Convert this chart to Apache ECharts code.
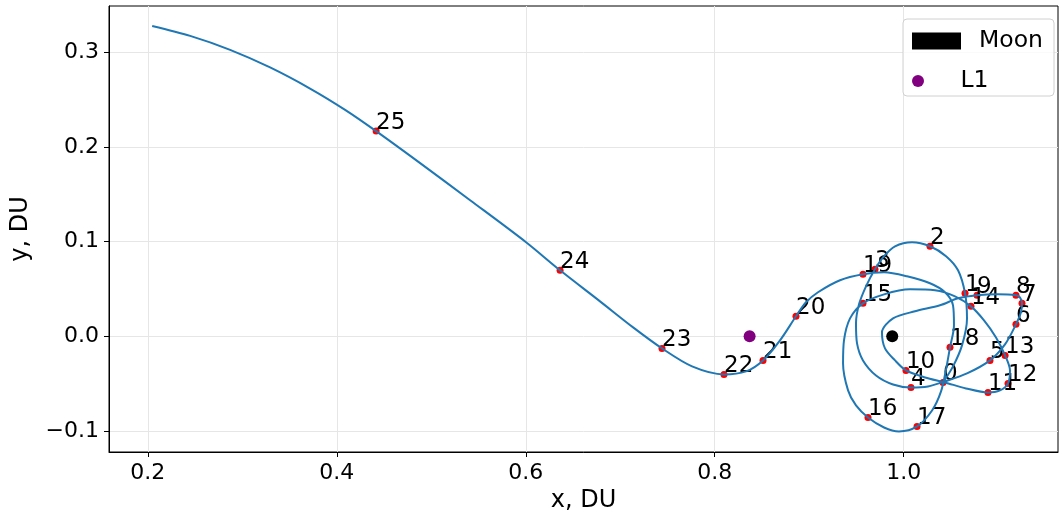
<!DOCTYPE html>
<html>
<head>
<meta charset="utf-8">
<script src="https://cdn.jsdelivr.net/npm/echarts@6/dist/echarts.min.js"></script>
<style>
  html, body { margin: 0; padding: 0; background: #fff; }
  #main { width: 1060px; height: 518px; }
</style>
</head>
<body>
<div id="main"></div>
<script>
// trajectory (in DU)
const trajX = [1.0416, 1.0522, 1.0617, 1.0670, 1.0649, 1.0575, 1.0448, 1.0278, 1.0088, 0.9908, 0.9792, 0.9696,
  0.9601, 0.9527, 0.9495, 0.9506, 0.9569, 0.9707, 0.9887, 1.0077, 1.0257, 1.0437, 1.0670, 1.0913, 1.1072,
  1.1188, 1.1241, 1.1252, 1.1230, 1.1188, 1.0998, 1.0776, 1.0575, 1.0384, 1.0120, 0.9887, 0.9770, 0.9802,
  0.9908, 1.0024, 1.0226, 1.0437, 1.0659, 1.0892, 1.1019, 1.1104, 1.1125, 1.1073, 1.0977, 1.0850, 1.0712,
  1.0543, 1.0331, 1.0067, 0.9792, 0.9569, 0.9432, 0.9368, 0.9358, 0.9411, 0.9495, 0.9622, 0.9792, 0.9950,
  1.0141, 1.0300, 1.0395, 1.0448, 1.0490, 1.0532, 1.0522, 1.0437, 1.0278, 1.0035, 0.9792, 0.9569, 0.9326,
  0.9093, 0.8966, 0.8860, 0.8691, 0.8511, 0.8331, 0.8098, 0.7760, 0.7442, 0.7136, 0.6786, 0.6363, 0.6003,
  0.5411, 0.4882, 0.4416, 0.4088, 0.3717, 0.3294, 0.2871, 0.2448, 0.2046];
const trajY = [-0.0487, -0.0317, -0.0095, 0.0190, 0.0455, 0.0698, 0.0847, 0.0952, 0.0995, 0.0952, 0.0847, 0.0709,
  0.0529, 0.0339, 0.0138, -0.0074, -0.0254, -0.0413, -0.0508, -0.0540, -0.0529, -0.0476, -0.0392, -0.0254, -0.0085,
  0.0127, 0.0254, 0.0349, 0.0413, 0.0434, 0.0444, 0.0434, 0.0402, 0.0328, 0.0265, 0.0190, 0.0042, -0.0127,
  -0.0254, -0.0360, -0.0434, -0.0487, -0.0550, -0.0593, -0.0571, -0.0497, -0.0360, -0.0201, -0.0011, 0.0169, 0.0317,
  0.0423, 0.0487, 0.0497, 0.0444, 0.0349, 0.0190, -0.0042, -0.0286, -0.0571, -0.0730, -0.0857, -0.0963, -0.1005,
  -0.0952, -0.0783, -0.0582, -0.0349, -0.0116, 0.0116, 0.0328, 0.0466, 0.0561, 0.0635, 0.0677, 0.0656, 0.0593,
  0.0466, 0.0360, 0.0212, -0.0042, -0.0254, -0.0370, -0.0402, -0.0317, -0.0127, 0.0095, 0.0370, 0.0698, 0.0995,
  0.1439, 0.1831, 0.2169, 0.2394, 0.2619, 0.2842, 0.3028, 0.3175, 0.3280];

// numbered nodes 0..25
const nodeX = [1.0416, 1.0649, 1.0278, 0.9696, 1.0077, 1.0913, 1.1188, 1.1252, 1.1188, 1.0776, 1.0024, 1.0892, 1.1104,
  1.1073, 1.0712, 0.9569, 0.9622, 1.0141, 1.0490, 0.9569, 0.8860, 0.8511, 0.8098, 0.7442, 0.6363, 0.4416];
const nodeY = [-0.0487, 0.0455, 0.0952, 0.0709, -0.0540, -0.0254, 0.0127, 0.0349, 0.0434, 0.0434, -0.0360, -0.0593, -0.0497,
  -0.0201, 0.0317, 0.0349, -0.0857, -0.0952, -0.0116, 0.0656, 0.0212, -0.0254, -0.0402, -0.0127, 0.0698, 0.2169];

const moonPos = [0.98785, 0];
const l1Pos = [0.83692, 0];

const xTicks = [0.2, 0.4, 0.6, 0.8, 1.0];
const yTicks = [-0.1, 0, 0.1, 0.2, 0.3];

const font = 'DejaVu Sans';
const fmt = v => (v < 0 ? '\u2212' + (-v).toFixed(1) : v.toFixed(1));

const chart = echarts.init(document.getElementById('main'));

chart.setOption({
  animation: false,
  backgroundColor: '#fff',
  grid: {
    left: 109, top: 6, width: 949, height: 446,
    show: true, borderColor: '#000', borderWidth: 1
  },
  xAxis: {
    type: 'value', min: 0.1589, max: 1.1633,
    name: 'x, DU', nameLocation: 'middle', nameGap: 37,
    nameTextStyle: { color: '#000', fontSize: 24, fontFamily: font },
    axisLine: { show: true, onZero: false, lineStyle: { color: '#000', width: 1 } },
    axisTick: { show: true, customValues: xTicks, length: 5, lineStyle: { color: '#000' } },
    axisLabel: { customValues: xTicks, formatter: fmt, color: '#000', fontSize: 22, fontFamily: font, margin: 10 },
    splitLine: { show: true, lineStyle: { color: '#e6e6e6', width: 1 } }
  },
  yAxis: {
    type: 'value', min: -0.1222, max: 0.3491,
    name: 'y, DU', nameLocation: 'middle', nameGap: 76, nameRotate: 90,
    nameTextStyle: { color: '#000', fontSize: 24, fontFamily: font },
    axisLine: { show: true, onZero: false, lineStyle: { color: '#000', width: 1 } },
    axisTick: { show: true, customValues: yTicks, length: 5, lineStyle: { color: '#000' } },
    axisLabel: { customValues: yTicks, formatter: fmt, color: '#000', fontSize: 22, fontFamily: font, margin: 10 },
    splitLine: { show: true, lineStyle: { color: '#e6e6e6', width: 1 } }
  },
  legend: [
    {
      data: [{ name: 'Moon', icon: 'rect' }],
      left: 912, top: 29, orient: 'vertical', padding: 0,
      itemWidth: 49, itemHeight: 17,
      textStyle: { color: '#000', fontSize: 23.5, fontFamily: font, padding: [0, 0, 0, 13] }
    },
    {
      data: [{ name: 'L1', icon: 'circle' }],
      left: 912, top: 69, orient: 'vertical', padding: 0,
      itemWidth: 49, itemHeight: 12,
      textStyle: { color: '#000', fontSize: 23.5, fontFamily: font, padding: [0, 0, 0, 13] }
    }
  ],
  graphic: [{
    type: 'rect', z: 3, silent: true,
    shape: { x: 903, y: 19, width: 151, height: 77, r: 4 },
    style: { fill: 'rgba(255,255,255,0.8)', stroke: '#d0d0d0', lineWidth: 1 }
  }],
  series: [
    {
      name: 'nodes', type: 'scatter', z: 2,
      symbolSize: 7,
      itemStyle: { color: '#ff0000', opacity: 1 },
      data: nodeX.map((x, i) => [x, nodeY[i], i]),
      label: {
        show: true, position: [3.5, 6.5], align: 'left', verticalAlign: 'bottom',
        formatter: p => String(p.data[2]),
        color: '#000', fontSize: 23, fontFamily: font
      }
    },
    {
      name: 'trajectory', type: 'line', z: 3,
      showSymbol: false, smooth: 0.3,
      lineStyle: { color: '#1f77b4', width: 2 },
      data: trajX.map((x, i) => [x, trajY[i]])
    },
    {
      name: 'Moon', type: 'scatter', z: 4, symbolSize: 12,
      itemStyle: { color: '#000', opacity: 1 },
      data: [moonPos]
    },
    {
      name: 'L1', type: 'scatter', z: 4, symbolSize: 12,
      itemStyle: { color: '#800080', opacity: 1 },
      data: [l1Pos]
    }
  ]
});
</script>
</body>
</html>
